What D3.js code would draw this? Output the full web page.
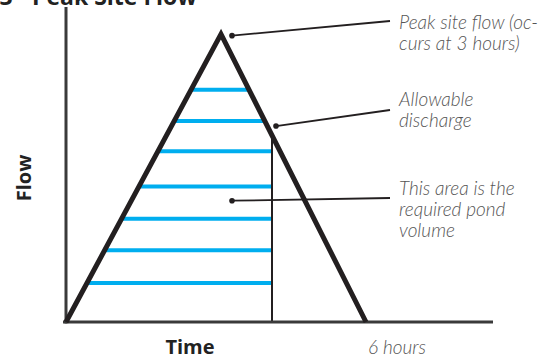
<!DOCTYPE html>
<html>
<head>
<meta charset="utf-8">
<script src="https://cdn.jsdelivr.net/npm/d3@7"></script>
<style>
  body { margin: 0; background: #fff; }
  svg { display: block; }
  .note { font-family: Lato, "Open Sans", sans-serif; font-style: italic; font-weight: 300; font-size: 19px; fill: #555; }
  .bold { font-family: "Open Sans", sans-serif; font-weight: bold; fill: #222; }
</style>
</head>
<body>
<svg width="548" height="360"></svg>
<script>
// hydrograph (time in hours, flow in % of axis)
var hydroTime = [0, 3.1, 6];
var hydroFlow = [0, 91.4, 0];
// allowable discharge, where the falling limb is cut off
var dischargeTime = 4.12;
var dischargeFlow = 58.4;
// blue hatch levels inside the pond volume
var fillFlows = [73.7, 63.8, 54.2, 43, 32.8, 22.8, 12.4];
// callouts: anchor point and text lines
var noteTimes = [3.32, 4.2, 3.32];
var noteFlows = [90.9, 62.2, 38.5];
var noteLines = [
  ["Peak site flow (oc-", "curs at 3 hours)"],
  ["Allowable", "discharge"],
  ["This area is the", "required pond", "volume"]
];

var svg = d3.select("svg");

var x = d3.scaleLinear().domain([0, 8.5]).range([66, 491]);
var y = d3.scaleLinear().domain([0, 100]).range([322, 7]);

// title (cut off at the top edge)
svg.append("text")
  .attr("class", "bold")
  .attr("x", 197).attr("y", 5)
  .attr("text-anchor", "end")
  .style("font-size", "23px")
  .text("Figure 3 - Peak Site Flow");

// blue lines first, triangle drawn on top
var peakT = hydroTime[1], peakF = hydroFlow[1], endT = hydroTime[2];
svg.append("g").selectAll("line")
  .data(fillFlows)
  .enter().append("line")
    .attr("x1", function(f) { return x(peakT * f / peakF); })
    .attr("x2", function(f) {
      var tr = peakT + (endT - peakT) * (1 - f / peakF);
      return x(Math.min(tr, dischargeTime));
    })
    .attr("y1", function(f) { return y(f); })
    .attr("y2", function(f) { return y(f); })
    .attr("stroke", "#00aeef")
    .attr("stroke-width", 4);

// allowable discharge line
svg.append("line")
  .attr("x1", x(dischargeTime)).attr("x2", x(dischargeTime))
  .attr("y1", y(dischargeFlow)).attr("y2", y(0))
  .attr("stroke", "#231f20")
  .attr("stroke-width", 2);

// axes
svg.append("line")
  .attr("x1", x(0)).attr("x2", x(0))
  .attr("y1", y(100)).attr("y2", y(0) + 1.5)
  .attr("stroke", "#3a3a3a").attr("stroke-width", 3);
svg.append("line")
  .attr("x1", x(0) - 3).attr("x2", x(8.5) + 2)
  .attr("y1", y(0)).attr("y2", y(0))
  .attr("stroke", "#3a3a3a").attr("stroke-width", 3);

// hydrograph triangle
var line = d3.line()
  .x(function(d, i) { return x(hydroTime[i]); })
  .y(function(d, i) { return y(hydroFlow[i]); });
svg.append("path")
  .attr("d", line(hydroTime))
  .attr("fill", "none")
  .attr("stroke", "#231f20")
  .attr("stroke-width", 5)
  .attr("stroke-linejoin", "miter")
  .attr("stroke-miterlimit", 10);

// callouts
var labelX = 399, lineEndX = 390;
var labelY = [29, 106, 195];
var lineEndY = [21, 110, 198];
noteLines.forEach(function(lines, i) {
  var px = x(noteTimes[i]), py = y(noteFlows[i]);
  svg.append("line")
    .attr("x1", px).attr("y1", py)
    .attr("x2", lineEndX).attr("y2", lineEndY[i])
    .attr("stroke", "#231f20").attr("stroke-width", 1.8);
  svg.append("circle")
    .attr("cx", px).attr("cy", py).attr("r", 2.8)
    .attr("fill", "#231f20");
  var t = svg.append("text")
    .attr("class", "note")
    .attr("x", labelX).attr("y", labelY[i]);
  lines.forEach(function(s, j) {
    t.append("tspan")
      .attr("x", labelX)
      .attr("dy", j === 0 ? 0 : 21)
      .text(s);
  });
});

// axis titles
svg.append("text")
  .attr("class", "bold")
  .attr("transform", "translate(31," + 178 + ") rotate(-90)")
  .attr("text-anchor", "middle")
  .style("font-size", "20px")
  .text("Flow");
svg.append("text")
  .attr("class", "bold")
  .attr("x", 190).attr("y", 354)
  .attr("text-anchor", "middle")
  .style("font-size", "20px")
  .text("Time");
svg.append("text")
  .attr("class", "note")
  .attr("x", x(endT) + 2).attr("y", 354)
  .text("6 hours");
</script>
</body>
</html>
